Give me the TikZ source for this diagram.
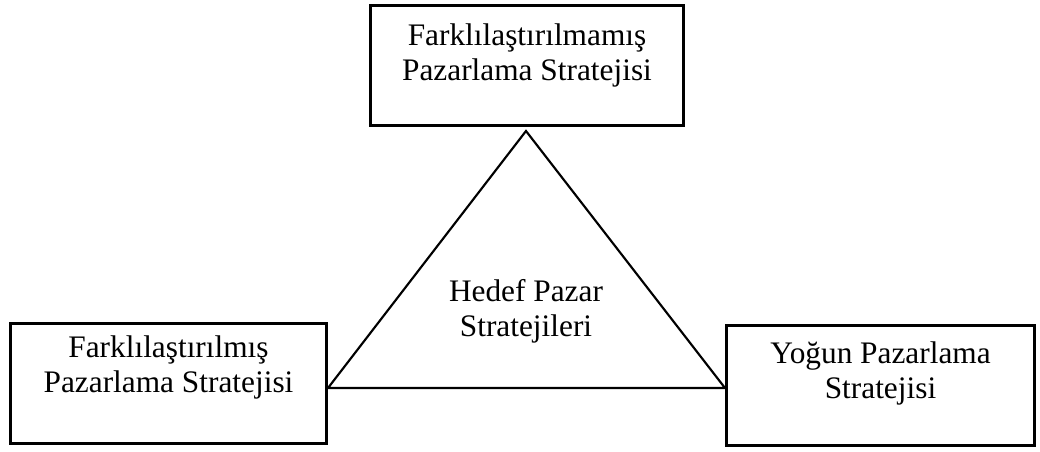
\documentclass[tikz,border=0pt]{standalone}
\usepackage{fontspec}
\setmainfont{Liberation Serif}
\usetikzlibrary{positioning,calc}

\begin{document}
\begin{tikzpicture}
    [   x=0.75pt
    ,   y=-0.75pt
    ,   strategy/.style=
        {   draw
        ,   rectangle
        ,   line width=2.25pt
        ,   minimum height=90pt
        }
    ,   caption/.style=
        {   align=center
        ,   inner sep=0pt
        ,   font=\fontsize{23.5}{26.25}\selectfont
        }
    ,   edge/.style=
        {   line width=1.6pt
        ,   line join=miter
        }
    ]
    \useasboundingbox (0,0) rectangle (1040,452);
    % the three strategy boxes
    \node[strategy, minimum width=234.75pt] (undiff) at (527,65.5) {};
    \node[strategy, minimum width=237pt] (diff) at (168.5,383.5) {};
    \node[strategy, minimum width=231pt] (conc) at (880.5,385.5) {};
    \node[caption, below=14.5pt of undiff.north]
        (undifftext) {Farklılaştırılmamış\\Pazarlama Stratejisi};
    \node[caption, below=10pt of diff.north]
        (difftext) {Farklılaştırılmış\\Pazarlama Stratejisi};
    \node[caption, below=13pt of conc.north]
        (conctext) {Yoğun Pazarlama\\Stratejisi};
    % the triangle between them
    \coordinate (base) at (0,388);
    \coordinate (apex) at ($(undiff.south)+(-1,4)$);
    \coordinate (left) at (diff.east |- base);
    \coordinate (right) at (conc.west |- base);
    \draw[edge] (apex) -- (left) -- (right) -- cycle;
    \node[caption, anchor=north] (target) at (526,279.5)
        {Hedef Pazar\\Stratejileri};
\end{tikzpicture}
\end{document}
